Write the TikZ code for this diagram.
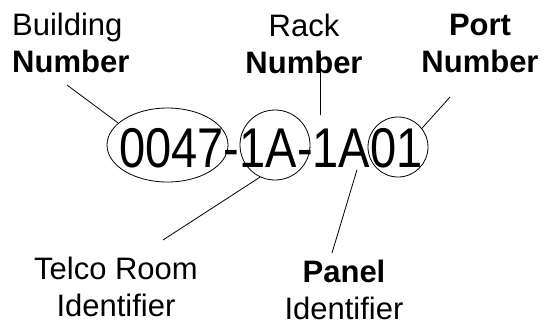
\documentclass[tikz,border=0pt]{standalone}
\usepackage{fontspec}
\setmainfont{Liberation Sans}
\newfontfamily\codefont[FakeStretch=0.84]{Liberation Sans}
\usepackage{tikz}
\usetikzlibrary{positioning,calc,shapes.geometric}

\begin{document}
\begin{tikzpicture}[x=1pt, y=-1pt,
	lbl/.style={inner sep=0pt, font=\fontsize{31}{37}\selectfont},
	ring/.style={draw, ellipse, inner sep=0pt, line width=0.8pt},
	link/.style={line width=0.8pt}]
	\useasboundingbox (0,0) rectangle (544,325);
	\node[lbl, anchor=north west, align=left] (A) at (12,13) {Building\\\textbf{Number}};
	\node[lbl, anchor=north, align=center] (B) at (304,14) {Rack\\\textbf{Number}};
	\node[lbl, anchor=north, align=center] (C) at (480,14) {\textbf{Port}\\\textbf{Number}};
	\node[inner sep=0pt, anchor=base, font=\codefont\fontsize{56}{60}\selectfont] (D) at (271,167) {0047-1A-1A01};
	\node[ring, minimum width=121, minimum height=74] (E) at (167.5,145) {};
	\node[ring, minimum width=70, minimum height=70] (F) at (275,145) {};
	\node[ring, minimum width=60, minimum height=60] (G) at (398,147) {};
	\node[lbl, anchor=north, align=center] (H) at (116,257) {Telco Room\\Identifier};
	\node[lbl, anchor=north, align=center] (I) at (344,260) {\textbf{Panel}\\Identifier};
	
	
	\path[link] (E.156) edge ($(A.north west)+(55,72)$);
	\path[link] ($(B.north)+(16,40)$) edge ($(D.north)+(49,-13)$);
	\path[link] (G.38) edge ($(C.north)+(-30,83)$);
	\path[link] (F.245) edge ($(H.north)+(47,-17)$);
	\path[link] ($(D.south)+(86,2)$) edge ($(I.north)+(-12,-7)$);
	
	\end{tikzpicture}
\end{document}
